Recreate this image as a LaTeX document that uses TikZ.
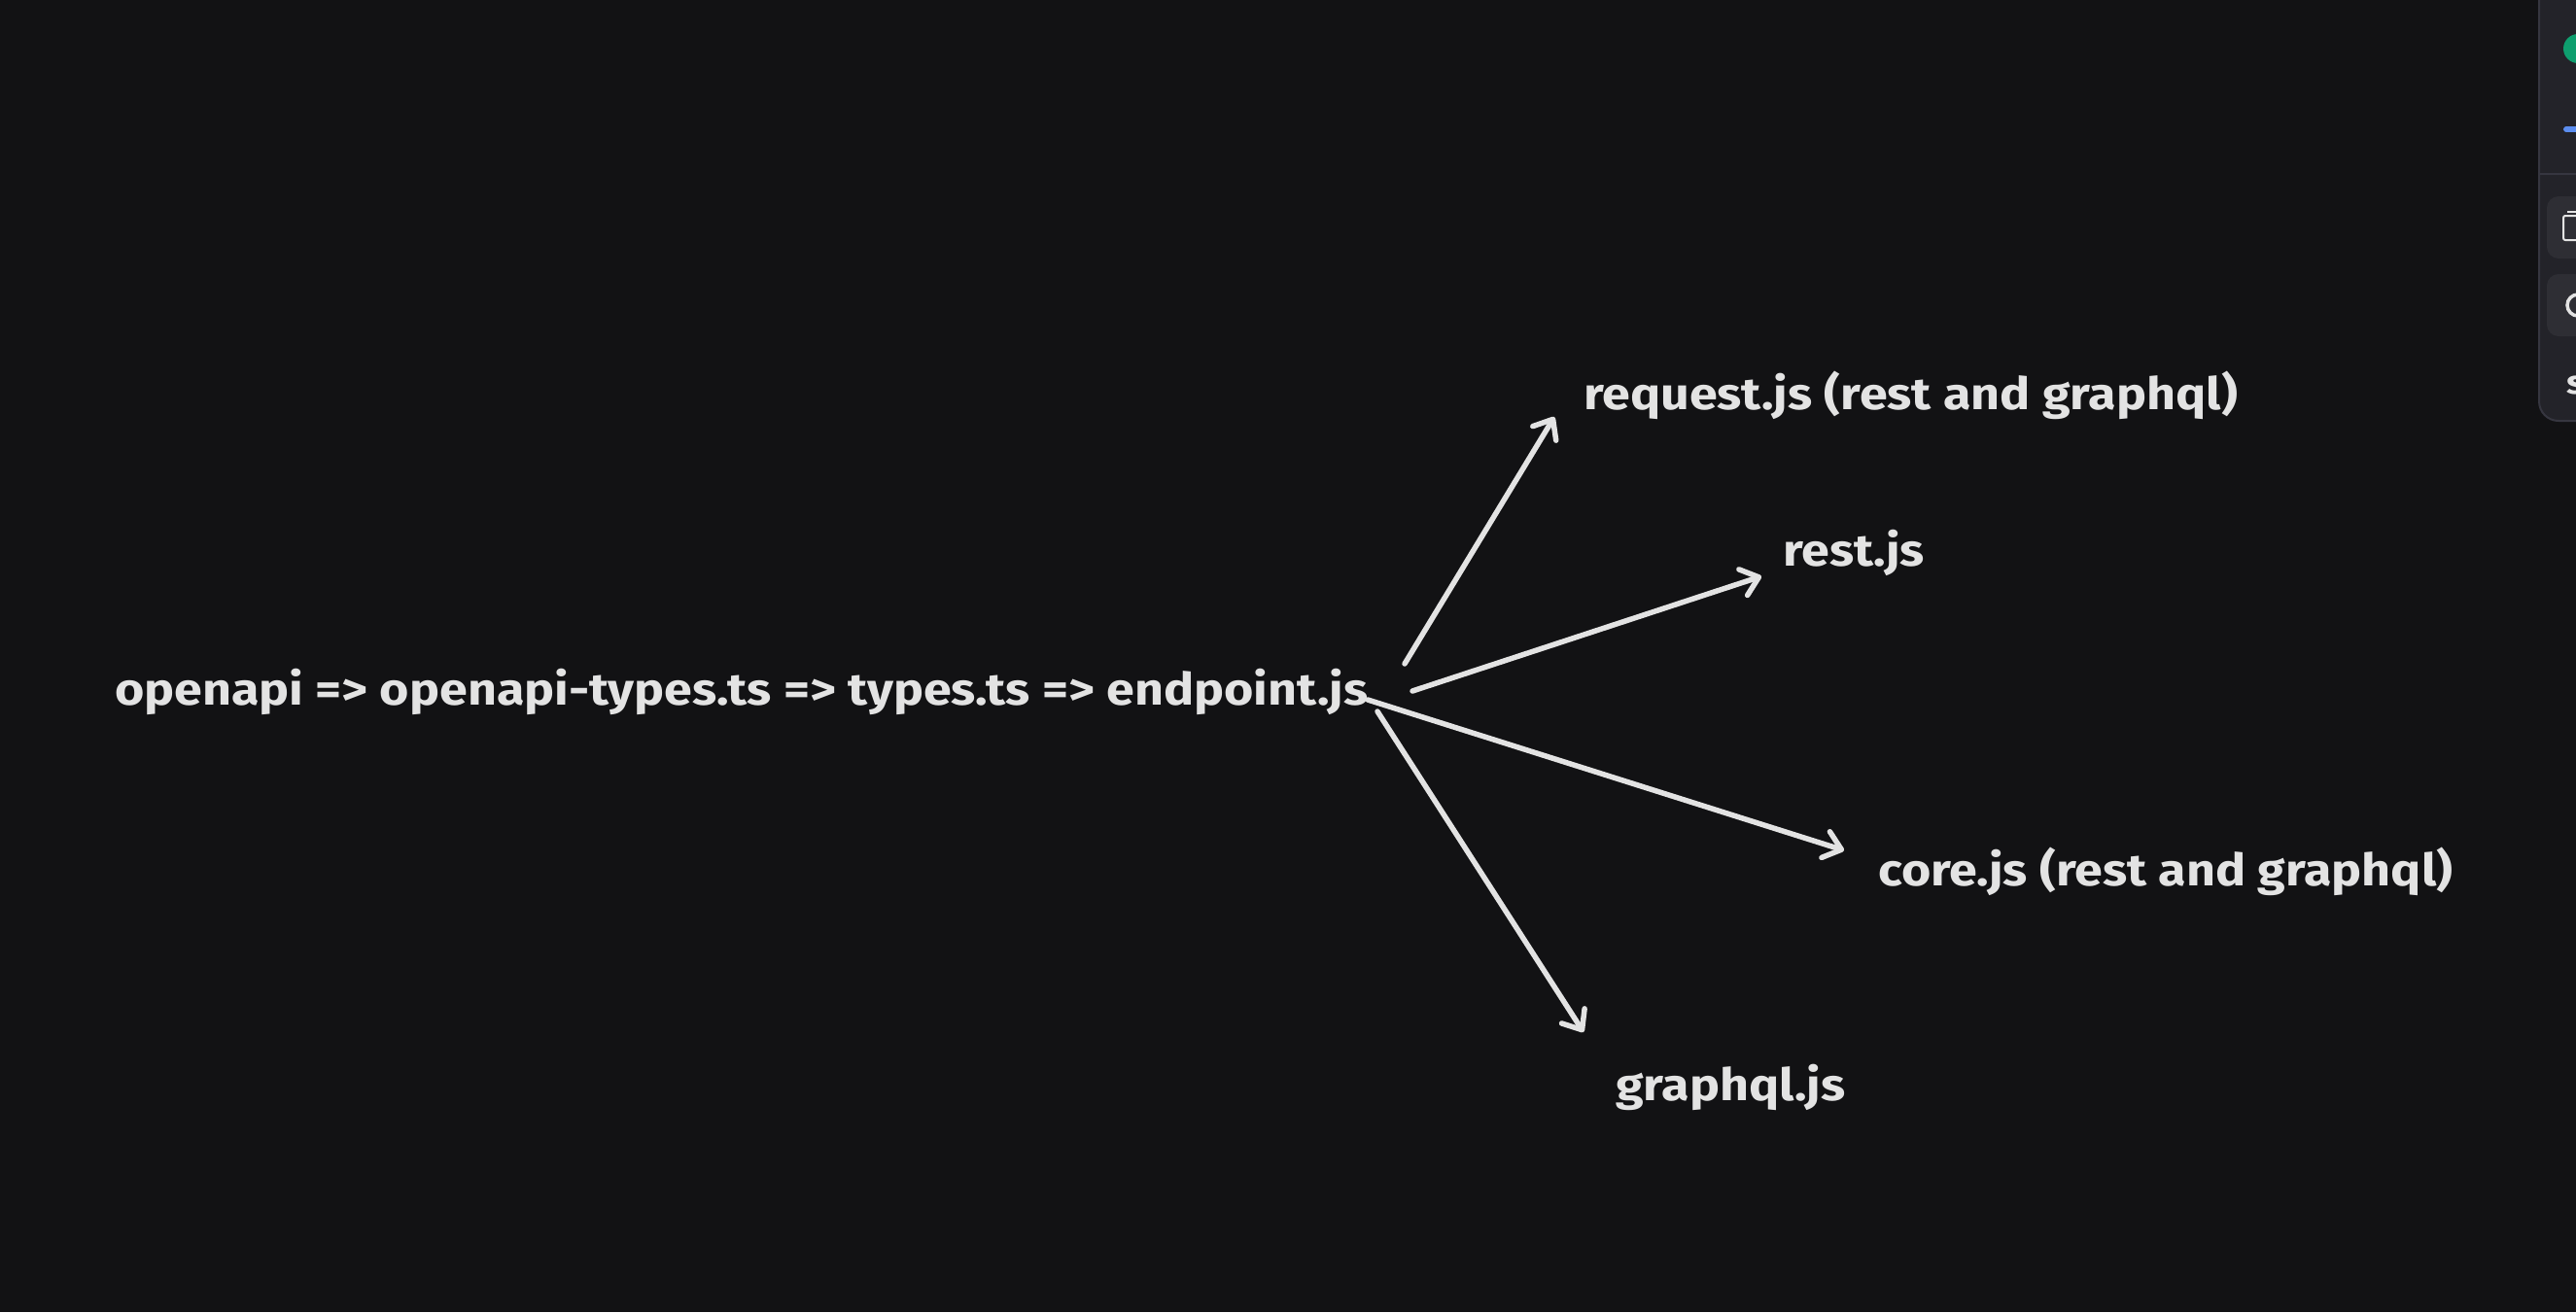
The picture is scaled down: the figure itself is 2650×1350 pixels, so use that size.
\documentclass[tikz,border=0pt]{standalone}
\usepackage{fontspec}
\setmainfont{Fira Sans}[FakeStretch=1.13]
\usetikzlibrary{arrows.meta}
\definecolor{bgc}{HTML}{121214}
\definecolor{inkc}{HTML}{E3E3E3}
\definecolor{panelc}{HTML}{232329}
\definecolor{panelline}{HTML}{363640}
\definecolor{btnc}{HTML}{2E2E34}
\definecolor{greenc}{HTML}{0E9E6E}
\definecolor{bluec}{HTML}{5B8DEF}
\tikzset{
  lbl/.style={anchor=base west, inner sep=0pt, text=inkc, font=\fontsize{46}{52}\selectfont\bfseries},
  conn/.style={draw=inkc, line width=5.5pt, line cap=round, -{Straight Barb[length=17pt,width=28pt,round]}},
}
\begin{document}
\begin{tikzpicture}[x=1pt,y=-1pt]
\useasboundingbox (0,0) rectangle (2650,1350);
\fill[bgc] (0,0) rectangle (2650,1350);
% side panel (partly visible)
\begin{scope}
\clip (0,0) rectangle (2650,1350);
\filldraw[fill=panelc, draw=panelline, line width=2pt, rounded corners=20pt] (2612,-30) rectangle (2700,433);
\fill[greenc] (2652,50) circle (15);
\draw[bluec, line width=6pt, line cap=round] (2640,133) -- (2700,133);
\draw[panelline, line width=2pt] (2612,179) -- (2700,179);
\fill[btnc, rounded corners=12pt] (2620,202) rectangle (2700,266);
\fill[btnc, rounded corners=12pt] (2620,282) rectangle (2700,346);
\draw[inkc, line width=2pt, rounded corners=2pt] (2637,222) rectangle (2655,247);
\draw[inkc, line width=2pt] (2641,218) -- (2660,218);
\draw[inkc, line width=3.5pt] (2652,314) circle (11);
\node[anchor=base west, inner sep=0pt, text=inkc, font=\fontsize{34}{40}\selectfont\bfseries] (pnl) at (2640,405) {s};
\end{scope}
% labels
\node[lbl] (chain) at (118,725) {openapi => openapi-types.ts => types.ts => endpoint.js};
\node[lbl] (req) at (1629,421) {request.js (rest and graphql)};
\node[lbl] (rest) at (1834,582) {rest.js};
\node[lbl] (core) at (1932,911) {core.js (rest and graphql)};
\node[lbl] (gql) at (1662,1132) {graphql.js};
% connector ends
\coordinate (s1) at (1445,683);
\coordinate (s2) at (1453,711);
\coordinate (s3) at (1407,720);
\coordinate (s4) at (1417,732);
\coordinate (e1) at (1599,429);
\coordinate (e2) at (1812,593);
\coordinate (e3) at (1897,875);
\coordinate (e4) at (1629,1062);
\draw[conn] (s1) -- (e1);
\draw[conn] (s2) -- (e2);
\draw[conn] (s3) -- (e3);
\draw[conn] (s4) -- (e4);
\end{tikzpicture}
\end{document}
